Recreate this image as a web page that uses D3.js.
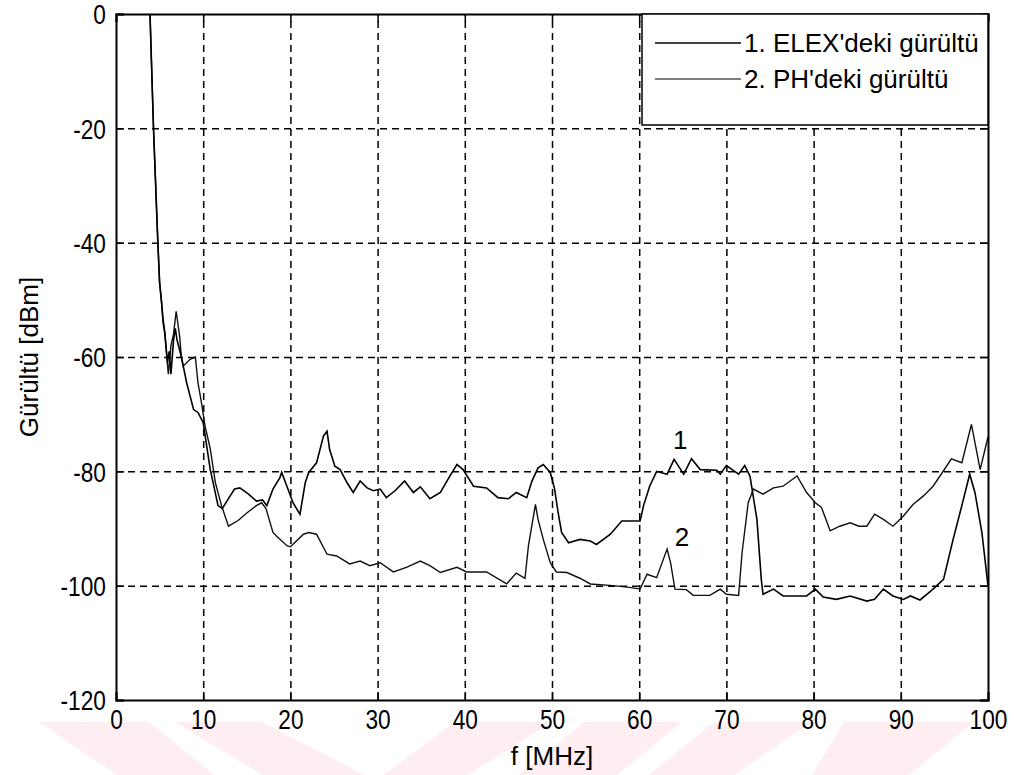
<!DOCTYPE html>
<html><head><meta charset="utf-8">
<script src="https://cdn.jsdelivr.net/npm/d3@7"></script>
<style>
body{margin:0;background:#fff}
text{font-family:"Liberation Sans",Arial,sans-serif;fill:#000}
</style>
</head><body>
<svg id="c" width="1014" height="775"></svg>
<script>
// ---- data ----
const xTicks = [0,10,20,30,40,50,60,70,80,90,100];
const yTicks = [0,-20,-40,-60,-80,-100,-120];
const seriesNames = ["1. ELEX'deki gürültü", "2. PH'deki gürültü"];

const freqElex = [0,1,2,3,3.9,4.3,4.8,5.0,5.2,5.4,5.6,5.9,6.1,6.3,6.6,6.8,7.0,7.5,8.1,8.9,9.4,10.0,10.8,11.7,12.2,13.0,13.6,14.2,15.2,16.1,16.8,17.3,18.0,18.8,19.0,19.6,20.3,21.1,21.7,22.1,23.0,23.8,24.2,24.5,25.1,25.7,26.5,27.2,28.0,28.8,29.5,30.3,31.0,32.0,33.1,34.1,34.9,36.0,37.2,38.3,39.1,39.8,41.0,42.5,43.8,45.0,45.9,47.1,47.7,48.4,49.0,49.8,50.3,50.7,51.1,51.9,53.2,54.4,55.1,56.7,58.0,60.1,60.5,61.2,62.0,63.2,64.0,65.1,66.0,67.0,68.9,69.3,70.0,71.4,72.1,72.7,73.5,74.0,74.2,75.4,76.5,79.2,80.2,81.1,82.6,84.2,86.1,87.0,88.0,89.1,90.3,91.1,92.2,93.7,94.9,96.0,97.0,97.9,98.5,99.3,100];
const noiseElex = [0,0,0,0,0,-20,-40,-47,-50,-53.5,-55.7,-61,-59,-63,-57,-55,-57,-60,-64.5,-69.2,-69.7,-71.5,-79.6,-86,-86.5,-84.5,-83.1,-82.9,-84,-85.2,-85,-86,-83.1,-81.1,-80.2,-82.6,-85.5,-87.5,-82,-80.2,-78.5,-73.8,-73,-76.2,-79.1,-79.7,-82,-83.7,-81.7,-82.9,-83.4,-83.1,-84.6,-83.4,-81.7,-83.7,-82.7,-84.8,-83.7,-80.8,-78.8,-79.7,-82.6,-82.9,-84.6,-84.8,-83.7,-84.6,-81.7,-79.4,-78.8,-80.2,-83.1,-87.2,-90.7,-92.5,-91.9,-92.2,-92.8,-91,-88.7,-88.7,-86,-82.6,-80,-80.5,-77.9,-80.5,-77.8,-79.7,-79.8,-80.5,-79,-80.5,-79,-80.8,-88.4,-98.9,-101.5,-100.6,-101.8,-101.8,-100.6,-102,-102.4,-101.8,-102.7,-102.4,-100.6,-101.8,-102.4,-101.8,-102.5,-100.6,-98.9,-91.9,-86,-80.5,-83.7,-90.7,-100];

const freqPH = [0,1,2,3,3.9,4.3,4.8,5.0,5.2,5.4,5.6,6.0,6.3,6.6,6.9,7.3,7.5,7.7,8.5,9.1,9.4,9.8,10.2,10.8,11.4,12.1,12.9,14.0,15.0,16.1,16.7,17.2,18.0,18.4,19.6,20.0,21.5,22.1,23.0,24.2,25.3,26.8,28.0,29.1,30.3,31.8,33.3,34.9,36.0,37.2,39.1,40.2,42.5,44.8,45.9,46.9,47.3,48.1,48.4,49.0,49.8,50.5,51.7,53.2,54.4,57.0,58.9,60.1,60.9,62.0,63.2,63.6,64.1,65.4,66.2,68.1,69.3,70.0,71.4,71.8,72.5,73.1,74.2,75.4,76.5,78.1,79.2,80.2,80.9,81.9,83.0,84.2,85.2,86.1,87.0,88.0,89.1,90.3,91.4,92.6,93.7,94.9,95.8,97.0,98.1,99.1,100];
const noisePH = [0,0,0,0,0,-20,-40,-47,-50,-54,-56,-63,-58,-56,-52,-56.4,-60,-61.6,-60.4,-60,-64.5,-68,-72,-76,-82,-86,-89.6,-88.6,-87.3,-86,-85.5,-86.5,-90.7,-91.3,-93,-93.2,-91,-90.7,-91,-94.5,-94.8,-96.2,-95.7,-96.5,-96,-97.6,-96.8,-95.7,-96.5,-97.7,-96.8,-97.6,-97.6,-99.7,-97.8,-98.7,-93,-85.8,-88.4,-91.9,-96,-97.6,-97.7,-98.7,-99.7,-100,-100.3,-100.6,-98,-98.6,-93.6,-96,-100.6,-100.7,-101.7,-101.7,-100.6,-101.5,-101.7,-94.2,-85.5,-83.1,-84,-82.9,-82.6,-80.8,-83.7,-85.5,-86.3,-90.4,-89.6,-89,-89.6,-89.6,-87.5,-88.4,-89.6,-87.8,-85.8,-84.3,-82.6,-79.9,-77.8,-78.5,-71.8,-79.7,-74];

const curveLabels = ["1","2"];
const curveLabelF = [64.7, 64.9];
const curveLabelV = [-74.4, -91.4];

// ---- layout ----
const W = 1014, H = 775;
const m = {left:116, right:1014-988, top:14, bottom:775-700};
const svg = d3.select("#c");
const iw = W - m.left - m.right, ih = H - m.top - m.bottom;

// watermark (decorative background bands)
const bands = [
  [[39,722],[149,722],[214,775],[117,775]],
  [[175,722],[262,722],[364,775],[262,775]],
  [[455,722],[552,722],[468,775],[383,775]],
  [[584,722],[682,722],[617,775],[519,775]],
  [[714,722],[812,722],[734,775],[649,775]],
  [[844,722],[974,722],[909,775],[812,775]]
];
svg.append("g").selectAll("polygon").data(bands).join("polygon")
  .attr("points", d => d.map(p => p.join(",")).join(" "))
  .attr("fill", "#feeef1");

const x = d3.scaleLinear().domain([0,100]).range([m.left, m.left+iw]);
const y = d3.scaleLinear().domain([-120,0]).range([m.top+ih, m.top]);

const g = svg.append("g");

// grid
const gridX = g.append("g").attr("transform",`translate(0,${m.top+ih})`)
  .call(d3.axisBottom(x).tickValues(xTicks.slice(1,-1)).tickSize(-ih).tickFormat(""));
gridX.select(".domain").remove();
gridX.selectAll("line").attr("stroke","#000").attr("stroke-width",1.5).attr("stroke-dasharray","7,5");
const gridY = g.append("g").attr("transform",`translate(${m.left},0)`)
  .call(d3.axisLeft(y).tickValues(yTicks.slice(1,-1)).tickSize(-iw).tickFormat(""));
gridY.select(".domain").remove();
gridY.selectAll("line").attr("stroke","#000").attr("stroke-width",1.5).attr("stroke-dasharray","7,5");

// clip
svg.append("clipPath").attr("id","clip").append("rect")
  .attr("x",m.left).attr("y",m.top).attr("width",iw).attr("height",ih);

const line = d3.line().x(d=>x(d[0])).y(d=>y(d[1]));
const dElex = freqElex.map((f,i)=>[f,noiseElex[i]]);
const dPH = freqPH.map((f,i)=>[f,noisePH[i]]);
g.append("path").datum(dPH).attr("clip-path","url(#clip)").attr("d",line)
  .attr("fill","none").attr("stroke","#111").attr("stroke-width",1.4);
g.append("path").datum(dElex).attr("clip-path","url(#clip)").attr("d",line)
  .attr("fill","none").attr("stroke","#000").attr("stroke-width",1.6);

// axes (box with inward ticks)
const fs = 26;
const fmt = d => String(d);
const axB = g.append("g").attr("transform",`translate(0,${m.top+ih})`)
  .call(d3.axisBottom(x).tickValues(xTicks).tickSize(-8).tickPadding(14).tickFormat(fmt));
const axT = g.append("g").attr("transform",`translate(0,${m.top})`)
  .call(d3.axisTop(x).tickValues(xTicks).tickSize(-8).tickFormat(""));
const axL = g.append("g").attr("transform",`translate(${m.left},0)`)
  .call(d3.axisLeft(y).tickValues(yTicks).tickSize(-8).tickPadding(12).tickFormat(fmt));
const axR = g.append("g").attr("transform",`translate(${m.left+iw},0)`)
  .call(d3.axisRight(y).tickValues(yTicks).tickSize(-8).tickFormat(""));
[axB,axT,axL,axR].forEach(a=>{
  a.select(".domain").attr("stroke","#000").attr("stroke-width",2);
  a.selectAll(".tick line").attr("stroke","#000").attr("stroke-width",1.5);
  a.selectAll("text").attr("font-size",27).attr("font-family",null).style("fill","#000")
    .attr("transform","scale(0.84,1)");
});
axB.selectAll("text").attr("dy","0.55em");
axL.selectAll("text").attr("dy","0.36em");

// axis titles
svg.append("text").attr("x",(m.left+m.left+iw)/2).attr("y",765)
  .attr("text-anchor","middle").attr("font-size",fs).text("f [MHz]");
svg.append("text").attr("transform",`translate(38,${m.top+ih/2}) rotate(-90)`)
  .attr("text-anchor","middle").attr("font-size",fs).text("Gürültü [dBm]");

// curve labels
g.selectAll(".cl").data(curveLabels).join("text").attr("class","cl")
  .attr("x",(d,i)=>x(curveLabelF[i])).attr("y",(d,i)=>y(curveLabelV[i]))
  .attr("dy","0.36em").attr("text-anchor","middle").attr("font-size",fs).text(d=>d);

// legend
const lg = svg.append("g");
lg.append("rect").attr("x",642).attr("y",m.top).attr("width",988-642).attr("height",111)
  .attr("fill","#fff").attr("stroke","#000").attr("stroke-width",1.5);
const legY = [43,79];
const legW = [1.6,1.1];
seriesNames.forEach((n,i)=>{
  lg.append("line").attr("x1",655).attr("x2",741).attr("y1",legY[i]).attr("y2",legY[i])
    .attr("stroke","#000").attr("stroke-width",legW[i]);
  lg.append("text").attr("x",744).attr("y",legY[i]).attr("dy","0.36em")
    .attr("font-size",fs).text(n);
});
</script>
</body></html>
